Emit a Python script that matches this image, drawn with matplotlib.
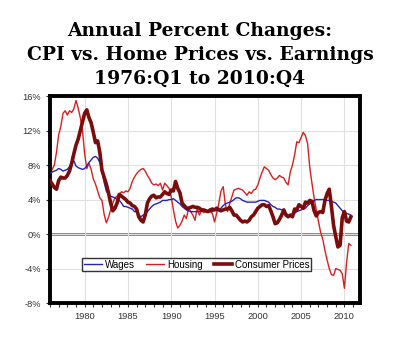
import numpy as np
import matplotlib.pyplot as plt
from matplotlib.ticker import MultipleLocator, FuncFormatter

# quarterly year-over-year % changes, 1976:Q1 .. 2010:Q4
wages = [
    7.0, 7.2, 7.3, 7.4,  7.6, 7.5, 7.3, 7.4,  7.5, 7.8, 8.2, 8.5,  7.9, 7.7, 7.6, 7.5,
    7.6, 7.9, 8.3, 8.6,  8.9, 9.0, 8.8, 8.3,  7.3, 6.0, 5.0, 4.6,  4.4, 4.3, 4.2, 4.0,
    3.9, 3.6, 3.2, 3.2,  3.1, 3.0, 2.9, 2.6,  2.6, 2.2, 2.0, 2.2,  2.3, 2.6, 2.9, 3.2,
    3.4, 3.5, 3.6, 3.7,  3.9, 3.9, 3.9, 4.0,  4.0, 4.1, 3.9, 3.7,  3.5, 3.2, 3.0, 2.8,
    2.7, 2.6, 2.6, 2.6,  2.6, 2.6, 2.7, 2.7,  2.8, 2.7, 2.6, 2.6,  2.8, 2.7, 2.8, 3.0,
    3.3, 3.5, 3.6, 3.7,  3.8, 4.0, 4.2, 4.2,  4.1, 3.9, 3.8, 3.7,  3.7, 3.7, 3.7, 3.7,
    3.8, 3.9, 3.9, 3.9,  3.8, 3.7, 3.4, 3.2,  3.1, 2.9, 2.9, 2.8,  2.8, 2.4, 2.2, 2.2,
    2.3, 2.4, 2.6, 2.7,  2.8, 2.9, 3.0, 3.3,  3.5, 3.7, 3.9, 4.0,  4.0, 4.0, 4.0, 4.0,
    3.9, 3.9, 3.8, 3.7,  3.6, 3.3, 3.0, 2.7,  2.5, 2.4, 2.3, 2.2,
]
housing = [
    7.0, 7.5, 8.0, 9.5,  11.5, 12.5, 14.0, 14.3,  13.8, 14.3, 14.1, 14.5,  15.5, 14.6, 13.5, 12.0,
    9.3, 7.6, 8.2, 7.5,  6.4, 5.8, 5.0, 4.2,  3.9, 2.3, 1.3, 1.9,  2.8, 3.6, 4.2, 4.4,
    4.6, 4.9, 4.8, 5.0,  4.9, 5.3, 6.1, 6.6,  7.0, 7.3, 7.5, 7.6,  7.3, 6.8, 6.4, 5.9,
    5.7, 5.8, 5.6, 5.9,  5.1, 5.9, 5.6, 5.3,  4.3, 2.8, 1.5, 0.7,  1.0, 1.5, 2.2, 1.8,
    3.0, 2.6, 2.2, 1.6,  3.0, 2.2, 2.7, 2.5,  2.6, 2.7, 2.6, 2.4,  1.4, 2.4, 3.6, 5.0,
    5.5, 3.4, 2.6, 3.5,  4.3, 5.1, 5.2, 5.3,  5.2, 5.1, 4.8, 4.5,  4.9, 4.7, 5.1, 5.2,
    5.7, 6.5, 7.2, 7.8,  7.6, 7.4, 6.9, 6.5,  6.3, 6.5, 6.8, 6.6,  6.5, 6.0, 5.7, 7.2,
    8.0, 9.2, 10.7, 10.6,  11.2, 11.8, 11.4, 10.5,  7.7, 5.9, 4.2, 2.8,  1.5, 0.2, -0.6, -1.9,
    -3.0, -4.0, -4.7, -4.8,  -4.0, -4.1, -4.2, -4.6,  -6.3, -3.3, -1.1, -1.3,
]
cpi = [
    6.2, 5.8, 5.4, 5.2,  6.2, 6.6, 6.5, 6.5,  6.8, 7.3, 8.2, 9.3,  10.3, 11.0, 12.0, 13.0,
    14.0, 14.4, 13.5, 12.9,  11.8, 10.6, 10.8, 9.5,  7.4, 6.6, 5.8, 4.8,  3.6, 2.7, 3.0, 3.6,
    4.6, 4.4, 4.2, 4.0,  3.7, 3.6, 3.3, 3.2,  2.9, 2.0, 1.6, 1.4,  2.2, 3.6, 4.1, 4.4,
    4.5, 4.2, 4.3, 4.3,  4.6, 4.9, 4.7, 4.6,  5.1, 5.0, 6.1, 5.3,  4.8, 3.6, 3.3, 3.0,
    3.0, 3.1, 3.2, 3.1,  3.1, 3.0, 2.8, 2.8,  2.7, 2.6, 2.8, 2.9,  2.8, 3.0, 2.8, 2.7,
    2.8, 2.9, 2.9, 3.1,  2.7, 2.2, 2.2, 1.9,  1.6, 1.4, 1.5, 1.4,  1.6, 2.0, 2.2, 2.6,
    3.0, 3.2, 3.4, 3.4,  3.2, 3.3, 2.7, 2.0,  1.2, 1.3, 1.7, 2.2,  2.8, 2.2, 2.0, 2.2,
    2.0, 2.9, 2.8, 3.4,  3.2, 3.0, 3.7, 3.6,  3.9, 3.8, 2.7, 2.1,  2.5, 2.6, 2.5, 3.9,
    4.7, 5.2, 3.2, 1.0,  -0.3, -1.5, -1.3, 1.9,  2.6, 1.5, 1.4, 2.0,
]

t = 1976 + np.arange(len(cpi)) / 4

fig = plt.figure(figsize=(4, 3.42), dpi=100)
ax = fig.add_axes([0.125, 0.114, 0.775, 0.605])

fig.text(0.5, 0.935, "Annual Percent Changes:\nCPI vs. Home Prices vs. Earnings\n1976:Q1 to 2010:Q4",
         ha="center", va="top", family="DejaVu Serif", weight="bold", fontsize=13.5,
         linespacing=1.4)

ax.axhline(0, color="#7a7a7a", lw=2.0, zorder=1)
ax.plot(t, wages, color="#2323c0", lw=1.0, label="Wages", zorder=3)
ax.plot(t, housing, color="#d82020", lw=1.0, label="Housing", zorder=2)
ax.plot(t, cpi, color="#7a0c0c", lw=2.6, label="Consumer Prices", zorder=4)

ax.set_xlim(1976, 2011.8)
ax.set_ylim(-8, 16)
ax.yaxis.set_major_locator(MultipleLocator(4))
ax.yaxis.set_major_formatter(FuncFormatter(lambda v, p: f"{v:.0f}%"))
ax.xaxis.set_major_locator(MultipleLocator(5))
ax.xaxis.set_minor_locator(MultipleLocator(1))
ax.grid(True, which="major", color="#e0e0e0", lw=0.8, zorder=0)

for s in ax.spines.values():
    s.set_linewidth(2.8)
ax.tick_params(axis="both", which="major", length=3, width=0.8, labelsize=6.7,
               colors="#333333", labelfontfamily="Liberation Sans")
ax.tick_params(axis="x", which="minor", length=3, width=0.8, colors="#333333")

leg = ax.legend(loc="center", bbox_to_anchor=(0.473, 0.186), ncol=3,
                prop={"family": "Liberation Sans", "size": 7},
                frameon=True, fancybox=False, edgecolor="black", handlelength=1.9,
                columnspacing=1.1, handletextpad=0.3, borderpad=0.2, borderaxespad=0)
leg.get_frame().set_linewidth(1.0)

fig.savefig("out.png", dpi=100)
